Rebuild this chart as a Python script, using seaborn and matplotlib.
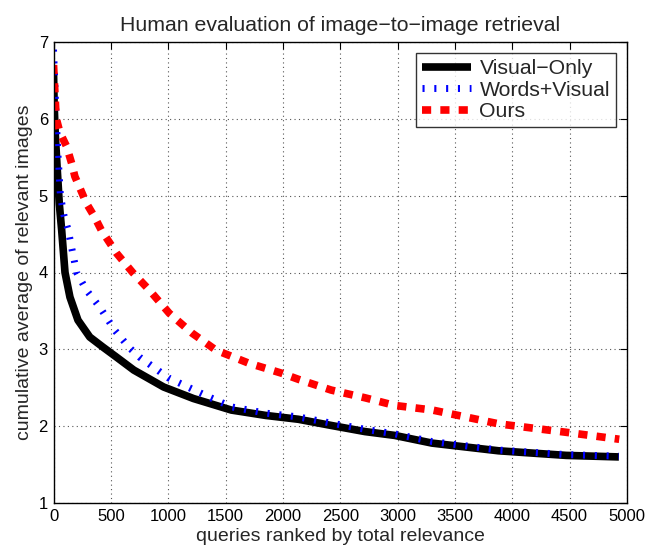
import matplotlib
matplotlib.use("Agg")
import matplotlib.pyplot as plt
import seaborn as sns
import pandas as pd

# Visual-Only (black)
vis_q = [0, 5, 15, 30, 50, 71, 100, 143, 213, 316, 430, 548, 700, 960, 1220, 1550, 1850,
         2135, 2420, 2715, 2975, 3300, 3880, 4470, 4930]
vis_v = [6.6, 6.2, 5.8, 5.4, 4.9, 4.55, 4.0, 3.68, 3.38, 3.16, 3.03, 2.9, 2.73, 2.51, 2.36,
         2.21, 2.14, 2.09, 2.01, 1.93, 1.88, 1.78, 1.68, 1.62, 1.60]

# Words+Visual (blue)
wv_q = [0, 10, 20, 40, 60, 90, 128, 201, 287, 403, 533, 662, 749, 1000, 1355, 1555, 1850,
        2135, 2420, 2715, 2975, 3300, 3880, 4470, 4930]
wv_v = [6.9, 6.5, 6.1, 5.5, 5.0, 4.75, 4.55, 4.0, 3.77, 3.55, 3.25, 3.02, 2.9, 2.63, 2.38,
        2.25, 2.17, 2.12, 2.04, 1.96, 1.90, 1.80, 1.69, 1.63, 1.61]

# Ours (red)
ours_q = [0, 10, 20, 28, 56, 114, 158, 186, 244, 287, 359, 417, 550, 690, 836, 1009,
          1209, 1416, 1702, 1988, 2135, 2421, 2715, 2975, 3304, 3884, 4473, 4933]
ours_v = [6.7, 6.4, 6.1, 5.98, 5.82, 5.64, 5.42, 5.25, 5.05, 4.90, 4.72, 4.55, 4.25,
          4.0, 3.77, 3.47, 3.21, 2.99, 2.82, 2.69, 2.61, 2.47, 2.37, 2.27, 2.21,
          2.03, 1.92, 1.83]

series_names = ["Visual\u2212Only", "Words+Visual", "Ours"]
x_ticks = list(range(0, 5001, 500))
y_ticks = [1, 2, 3, 4, 5, 6, 7]

sns.set_theme(style="white")
plt.rcParams["font.family"] = ["Liberation Sans", "DejaVu Sans"]

fig = plt.figure(figsize=(6.45, 5.45), dpi=100)
ax = fig.add_axes([0.083, 0.077, 0.889, 0.846])

df_vis = pd.DataFrame({"q": vis_q, "v": vis_v})
df_wv = pd.DataFrame({"q": wv_q, "v": wv_v})
df_ours = pd.DataFrame({"q": ours_q, "v": ours_v})

sns.lineplot(data=df_vis, x="q", y="v", ax=ax, color="black", linewidth=5.5,
             label=series_names[0], solid_capstyle="butt")
sns.lineplot(data=df_wv, x="q", y="v", ax=ax, color="#0000ff", linewidth=5,
             label=series_names[1])
ax.lines[-1].set_dashes((0.3, 1.4))
ax.lines[-1].set_dash_capstyle("butt")
sns.lineplot(data=df_ours, x="q", y="v", ax=ax, color="#ff0000", linewidth=5.5,
             label=series_names[2])
ax.lines[-1].set_dashes((1.2, 1.2))
ax.lines[-1].set_dash_capstyle("butt")

ax.set_xlim(0, 5000)
ax.set_ylim(1, 7)
ax.set_xticks(x_ticks)
ax.set_yticks(y_ticks)
ax.tick_params(direction="in", length=5, width=0.8, top=True, right=True,
               labelsize=12, colors="black", pad=4)
ax.grid(True, linestyle=(0, (1, 3)), color="#555555", linewidth=0.8)
for s in ax.spines.values():
    s.set_color("black")
    s.set_linewidth(1.0)

ax.set_xlabel("queries ranked by total relevance", fontsize=14, labelpad=3)
ax.set_ylabel("cumulative average of relevant images", fontsize=14, labelpad=4)
ax.set_title("Human evaluation of image\u2212to\u2212image retrieval", fontsize=15.3, pad=8)

leg = ax.legend(loc="upper right", fontsize=15.3, frameon=True, fancybox=False,
                edgecolor="black", handlelength=2.3, borderpad=0.3,
                labelspacing=0.12, handletextpad=0.4, borderaxespad=0.5)
leg.get_frame().set_linewidth(1.0)

fig.savefig("out.png", dpi=100)
